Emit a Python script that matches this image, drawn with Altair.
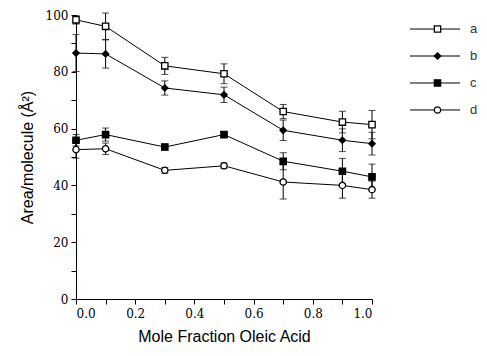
import altair as alt
import pandas as pd

# ---- data ----
series = ["a", "b", "c", "d"]
mole_fraction = [0.0, 0.1, 0.3, 0.5, 0.7, 0.9, 1.0]
area_a = [98.3, 96.0, 82.1, 79.3, 66.0, 62.3, 61.4]
err_a = [1.5, 4.7, 3.0, 3.5, 2.5, 3.8, 5.0]
area_b = [86.6, 86.3, 74.3, 71.9, 59.4, 55.9, 54.7]
err_b = [6.5, 5.0, 2.5, 2.7, 3.6, 4.0, 4.0]
area_c = [55.9, 57.9, 53.5, 57.9, 48.5, 45.0, 43.0]
err_c = [2.0, 2.3, 1.0, 1.0, 3.0, 4.5, 4.5]
area_d = [52.6, 52.9, 45.3, 46.9, 41.2, 40.0, 38.5]
err_d = [3.0, 2.0, 1.0, 1.0, 6.0, 4.5, 3.0]

x_ticks = [0.0, 0.1, 0.2, 0.3, 0.4, 0.5, 0.6, 0.7, 0.8, 0.9, 1.0]
y_ticks = [0, 10, 20, 30, 40, 50, 60, 70, 80, 90, 100]

rows = []
for name, vals, errs in zip(series, [area_a, area_b, area_c, area_d],
                            [err_a, err_b, err_c, err_d]):
    for x, v, e in zip(mole_fraction, vals, errs):
        rows.append({"series": name, "x": x, "y": v, "lo": v - e, "hi": v + e})
df = pd.DataFrame(rows)

SERIF = "DejaVu Serif"
SANS = "Liberation Sans"

xs = alt.Scale(domain=[0, 1], nice=False, zero=False)
ys = alt.Scale(domain=[0, 100], nice=False)
shape_scale = alt.Scale(domain=series, range=["square", "diamond", "square", "circle"])
fill_scale = alt.Scale(domain=series, range=["white", "black", "black", "white"])

x_axis = alt.Axis(values=x_ticks,
                  labelExpr="round(datum.value*10) % 2 == 0 ? format(datum.value, '.1f') : ''",
                  labelFont=SERIF, labelFontSize=12, labelPadding=4,
                  titleFont=SANS, titleFontSize=16, titleFontWeight="normal",
                  titlePadding=9)
y_axis = alt.Axis(values=y_ticks,
                  labelExpr="datum.value % 20 == 0 ? datum.label : ''",
                  labelFont=SERIF, labelFontSize=12, labelPadding=3,
                  titleFont=SANS, titleFontSize=16, titleFontWeight="normal",
                  titlePadding=10)

X_TITLE = "Mole Fraction Oleic Acid"
Y_TITLE = "Area/molecule    (Å²)"

base = alt.Chart(df)
lines = base.mark_line(color="black", strokeWidth=1).encode(
    x=alt.X("x:Q", scale=xs, axis=x_axis, title=X_TITLE),
    y=alt.Y("y:Q", scale=ys, axis=y_axis, title=Y_TITLE),
    detail="series:N",
)
errs = base.mark_errorbar(ticks={"size": 7, "color": "black"}, color="black", thickness=1).encode(
    x=alt.X("x:Q", scale=xs, axis=x_axis, title=X_TITLE),
    y=alt.Y("lo:Q", scale=ys, axis=y_axis, title=Y_TITLE),
    y2="hi:Q",
    detail="series:N",
)
pts = base.mark_point(filled=True, stroke="black", strokeWidth=1.3, opacity=1, size=40).encode(
    x=alt.X("x:Q", scale=xs, axis=x_axis, title=X_TITLE),
    y=alt.Y("y:Q", scale=ys, axis=y_axis, title=Y_TITLE),
    shape=alt.Shape("series:N", scale=shape_scale, legend=None),
    fill=alt.Fill("series:N", scale=fill_scale, legend=None),
)
main = alt.layer(lines, errs, pts).properties(width=296, height=284)

# ---- legend panel ----
leg = alt.Chart(pd.DataFrame({"series": series}))
lxs = alt.Scale(domain=[0, 1], nice=False, zero=False)
lys = alt.Scale(type="point", domain=series, padding=0.52)
leg_rule = leg.mark_rule(color="black", strokeWidth=1).encode(
    x=alt.X(datum=0, type="quantitative", scale=lxs, axis=None),
    x2=alt.X2(datum=1),
    y=alt.Y("series:N", scale=lys, axis=None),
)
leg_pts = leg.mark_point(filled=True, stroke="black", strokeWidth=1.3, opacity=1, size=40).encode(
    x=alt.X(datum=0.55, type="quantitative", scale=lxs, axis=None),
    y=alt.Y("series:N", scale=lys, axis=None),
    shape=alt.Shape("series:N", scale=shape_scale, legend=None),
    fill=alt.Fill("series:N", scale=fill_scale, legend=None),
)
leg_txt = leg.mark_text(align="left", baseline="middle", font=SANS, fontSize=13, color="#333333").encode(
    x=alt.X(datum=1.2, type="quantitative", scale=lxs, axis=None),
    y=alt.Y("series:N", scale=lys, axis=None),
    text="series:N",
)
legend = alt.layer(leg_rule, leg_pts, leg_txt).properties(width=50, height=109)

chart = alt.hconcat(main, legend, spacing=31).properties(
    padding={"left": 19, "top": 9, "right": 5, "bottom": 5},
    background="white",
).resolve_scale(shape="shared", fill="shared").configure_view(
    stroke=None
).configure_axis(
    grid=False, tickSize=5, tickColor="black", domainColor="black",
    labelColor="black", titleColor="black",
)

chart.save("out.html", embed_options={"renderer": "svg", "actions": False})
